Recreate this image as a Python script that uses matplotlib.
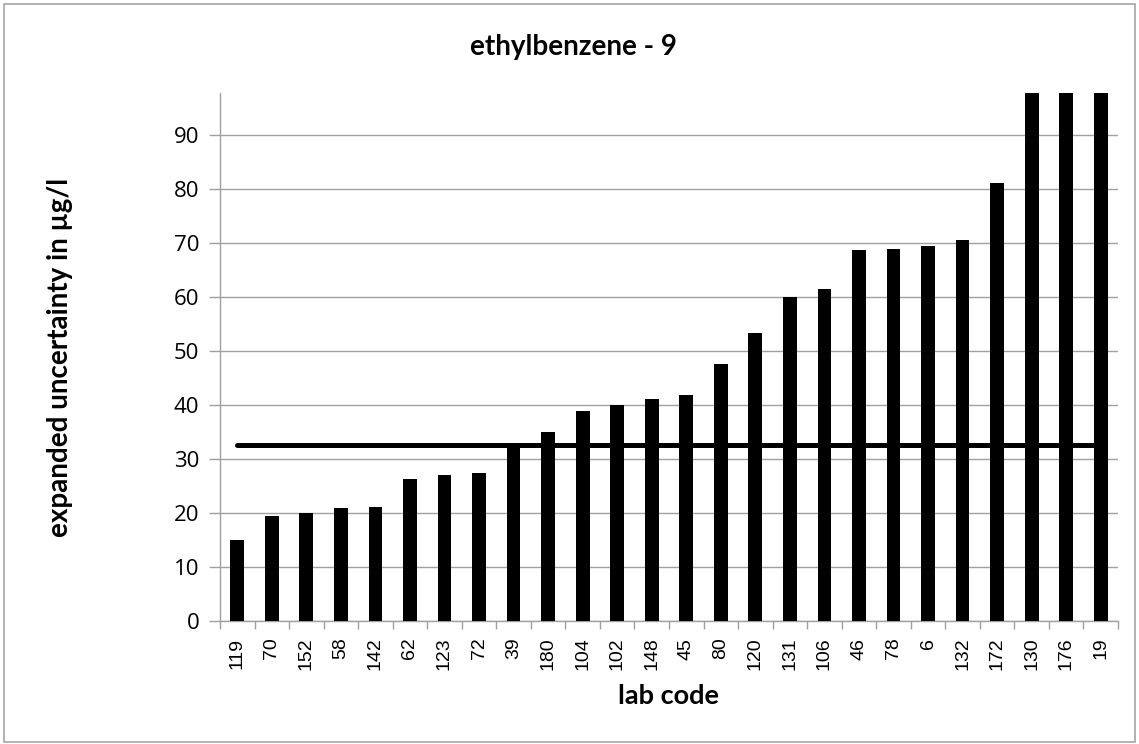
import matplotlib
matplotlib.use("Agg")
import matplotlib.pyplot as plt
from matplotlib.patches import Rectangle
import numpy as np

title = "ethylbenzene - 9"
x_label = "lab code"
y_label = "expanded uncertainty in µg/l"
lab_codes = ["119", "70", "152", "58", "142", "62", "123", "72", "39", "180",
             "104", "102", "148", "45", "80", "120", "131", "106", "46", "78",
             "6", "132", "172", "130", "176", "19"]
uncertainty = [15.0, 19.5, 20.0, 20.9, 21.1, 26.3, 27.1, 27.4, 32.5, 34.9,
               38.9, 40.0, 41.0, 41.9, 47.5, 53.2, 60.0, 61.4, 68.7, 68.9,
               69.3, 70.5, 81.0, 110.0, 130.0, 160.0]
reference_value = 32.5
y_max = 97.7
y_ticks = [0, 10, 20, 30, 40, 50, 60, 70, 80, 90]

W, H = 1139, 744
fig = plt.figure(figsize=(W / 100, H / 100), dpi=100)
fig.patch.set_facecolor("white")
fig.add_artist(Rectangle((4 / W, 2 / H), (W - 8) / W, (H - 6) / H,
                         transform=fig.transFigure, fill=False,
                         edgecolor="#A6A6A6", linewidth=1.2))

ax = fig.add_axes([220 / W, 1 - 621 / H, (1118 - 220) / W, (621 - 93) / H])
x = np.arange(len(lab_codes))
ax.bar(x, uncertainty, width=0.40, color="black", zorder=3)
ax.plot([x[0], x[-1]], [reference_value, reference_value], color="black",
        linewidth=3.6, solid_capstyle="round", zorder=4)

ax.set_xlim(-0.5, len(lab_codes) - 0.5)
ax.set_ylim(0, y_max)
ax.set_yticks(y_ticks)
ax.set_yticklabels([str(t) for t in y_ticks], fontfamily="Open Sans", fontsize=16)
ax.yaxis.grid(True, color="#A0A0A0", linewidth=1.0, zorder=0)
ax.set_axisbelow(True)

ax.set_xticks(x)
ax.set_xticklabels(lab_codes, rotation=90, fontfamily="Liberation Sans", fontsize=14)
ax.set_xticks(np.arange(len(lab_codes) + 1) - 0.5, minor=True)
ax.tick_params(axis="x", which="major", length=0, pad=12)
ax.tick_params(axis="x", which="minor", length=6, color="#A0A0A0", width=1.0)
ax.tick_params(axis="y", which="major", length=8, color="#A0A0A0", width=1.0, pad=7)

for s in ["top", "right"]:
    ax.spines[s].set_visible(False)
for s in ["left", "bottom"]:
    ax.spines[s].set_color("#A0A0A0")
    ax.spines[s].set_linewidth(1.0)

fig.text(573 / W, 1 - 47 / H, title, ha="center", va="center",
         fontfamily="Lato", fontweight="bold", fontsize=20)
fig.text(669 / W, 1 - 696 / H, x_label, ha="center", va="center",
         fontfamily="Lato", fontweight="bold", fontsize=19.5)
fig.text(60 / W, 1 - 357 / H, y_label, ha="center", va="center", rotation=90,
         fontfamily="Lato", fontweight="bold", fontsize=20)

fig.savefig("out.png", dpi=100)
